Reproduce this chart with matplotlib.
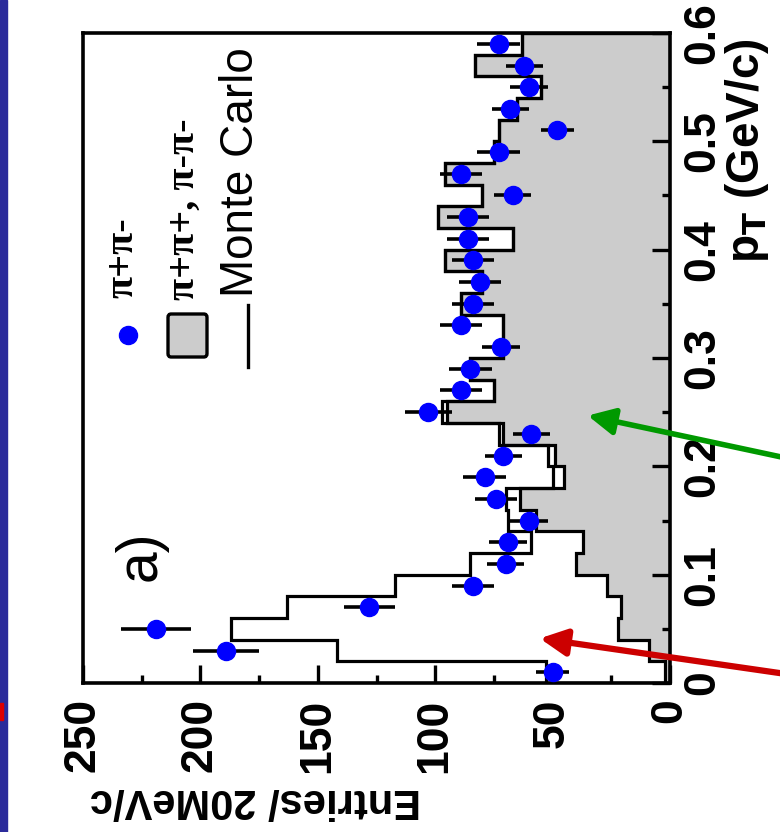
import numpy as np
import matplotlib
matplotlib.use("Agg")
import matplotlib.pyplot as plt
from matplotlib.patches import Rectangle, FancyBboxPatch
from matplotlib.lines import Line2D

plt.rcParams['font.family'] = ['Liberation Sans', 'DejaVu Sans']

# pT bins of 20 MeV/c
pt_edges = np.linspace(0.0, 0.6, 31)
pt_centres = [0.01, 0.03, 0.05, 0.07, 0.09, 0.11, 0.13, 0.15, 0.17, 0.19,
              0.21, 0.23, 0.25, 0.27, 0.29, 0.31, 0.33, 0.35, 0.37, 0.39,
              0.41, 0.43, 0.45, 0.47, 0.49, 0.51, 0.53, 0.55, 0.57, 0.59]

# pi+ pi- data
data_counts = [50, 189, 219, 128, 84, 70, 69, 60, 74, 79,
               71, 59, 103, 89, 85, 72, 89, 84, 81, 84,
               86, 86, 67, 89, 73, 48, 68, 60, 62, 73]
data_errors = [7, 14, 15, 11, 9, 8, 8, 8, 9, 9,
               8, 8, 10, 9, 9, 8, 9, 9, 9, 9,
               9, 9, 8, 9, 9, 7, 8, 8, 8, 9]

# like-sign pairs (grey histogram)
like_sign = [2, 9, 22, 21, 27, 40, 37, 57, 64, 45,
             49, 71, 95, 75, 85, 71, 71, 89, 80, 96,
             67, 99, 80, 96, 75, 73, 65, 55, 83, 63]

# Monte Carlo (open histogram)
monte_carlo = [53, 142, 187, 163, 117, 85, 59, 69, 70, 50,
               52, 73, 97, 75, 85, 71, 71, 89, 80, 96,
               67, 99, 80, 96, 75, 73, 65, 55, 83, 63]

entries_ticks = [0, 50, 100, 150, 200, 250]
pt_ticks = [0, 0.1, 0.2, 0.3, 0.4, 0.5, 0.6]

W, H = 780, 832


def fx(x):
    return x / W


def fy(y):
    return 1 - y / H


fig = plt.figure(figsize=(7.8, 8.32), dpi=100)
ax = fig.add_axes([fx(83), fy(683), fx(670) - fx(83), fy(33) - fy(683)])

# plot drawn rotated: entries along x (inverted), pT along y
ax.stairs(like_sign, pt_edges, orientation='horizontal', baseline=0,
          fill=True, color='#cccccc', zorder=1)
ax.stairs(like_sign, pt_edges, orientation='horizontal', baseline=0,
          color='black', lw=2.3, zorder=2)
ax.stairs(monte_carlo, pt_edges, orientation='horizontal', baseline=0,
          color='black', lw=2.3, zorder=2)
ax.errorbar(data_counts, pt_centres, xerr=data_errors, fmt='o',
            color='#0000ff', ms=13, ecolor='black', elinewidth=2.6,
            capsize=0, zorder=3)

ax.set_xlim(250, 0)
ax.set_ylim(0, 0.6)

ax.yaxis.tick_right()
ax.set_xticks(entries_ticks)
ax.set_xticks(np.arange(25, 250, 50), minor=True)
ax.set_yticks(pt_ticks)
ax.set_yticks(np.arange(0.05, 0.6, 0.1), minor=True)
ax.set_xticklabels([str(t) for t in entries_ticks])
ax.set_yticklabels(['0', '0.1', '0.2', '0.3', '0.4', '0.5', '0.6'])

ax.tick_params(axis='both', which='both', direction='in', width=2.4,
               colors='black')
ax.tick_params(axis='both', which='major', length=13)
ax.tick_params(axis='both', which='minor', length=5.5)
ax.tick_params(axis='x', labelrotation=90, labelsize=32, pad=11)
ax.tick_params(axis='y', labelrotation=90, labelsize=32, pad=9)
for lab in ax.get_xticklabels() + ax.get_yticklabels():
    lab.set_fontweight('bold')
for lab in ax.get_yticklabels():
    lab.set_verticalalignment('center')

for s in ax.spines.values():
    s.set_linewidth(2.6)

# axis titles
fig.text(fx(747), fy(38), r'p$_\mathbf{T}$ (GeV/c)', rotation=90,
         ha='center', va='top', fontsize=33, fontweight='bold')
fig.text(fx(90), fy(800), 'Entries/ 20MeV/c', rotation=180,
         ha='left', va='center', fontsize=30, fontweight='bold')

# panel label
fig.text(fx(141), fy(556), 'a)', rotation=90, ha='center', va='center',
         fontsize=41)

# hand-drawn legend, rotated like the rest
fig.add_artist(Line2D([fx(128)], [fy(335)], marker='o', ms=13,
                      color='#0000ff', transform=fig.transFigure))
fig.text(fx(123), fy(298), '\u03c0+\u03c0-', rotation=90, ha='center',
         va='bottom', fontsize=29, fontweight='bold',
         family=['Liberation Serif', 'DejaVu Serif'])
fig.add_artist(FancyBboxPatch((fx(168), fy(357)), fx(39), fy(314) - fy(357),
                              boxstyle='round,pad=0,rounding_size=0.004',
                              facecolor='#cccccc', edgecolor='black', lw=2.4,
                              transform=fig.transFigure))
fig.text(fx(184), fy(300), '\u03c0+\u03c0+, \u03c0-\u03c0-', rotation=90,
         ha='center', va='bottom', fontsize=29, fontweight='bold',
         family=['Liberation Serif', 'DejaVu Serif'])
fig.add_artist(Line2D([fx(248), fx(248)], [fy(367), fy(305)], color='black',
                      lw=2.4, transform=fig.transFigure))
fig.text(fx(241), fy(297), 'Monte Carlo', rotation=90, ha='center',
         va='bottom', fontsize=33)

# slide decorations
fig.add_artist(Rectangle((0, 0), fx(7), 1, color='#2b2b9b',
                         transform=fig.transFigure))
fig.add_artist(Rectangle((0, fy(720)), fx(3), fy(703) - fy(720),
                         color='#dd0000', transform=fig.transFigure))

# arrows
ax.annotate('', xy=(fx(585), fy(415)), xytext=(fx(800), fy(461)),
            xycoords='figure fraction', textcoords='figure fraction',
            arrowprops=dict(arrowstyle='-|>', color='#009900', lw=4,
                            mutation_scale=40), annotation_clip=False)
ax.annotate('', xy=(fx(537), fy(638)), xytext=(fx(800), fy(676)),
            xycoords='figure fraction', textcoords='figure fraction',
            arrowprops=dict(arrowstyle='-|>', color='#cc0000', lw=4.5,
                            mutation_scale=40), annotation_clip=False)

fig.savefig('out.png', dpi=100)
